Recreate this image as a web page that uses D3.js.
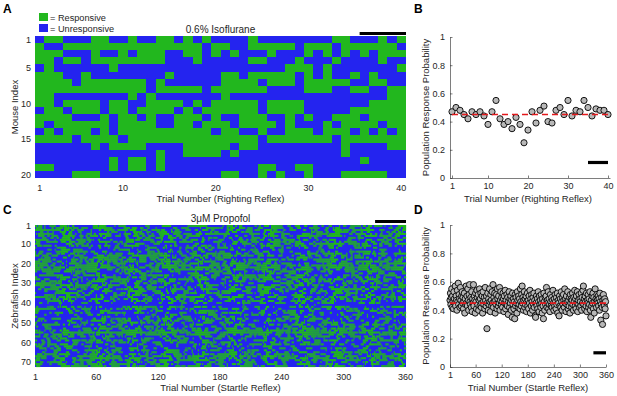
<!DOCTYPE html>
<html>
<head>
<meta charset="utf-8">
<script src="https://cdn.jsdelivr.net/npm/d3@7"></script>
<style>
body { margin: 0; background: #fff; }
text { font-family: "Liberation Sans", Arial, Helvetica, sans-serif; fill: #262626; }
.axis path, .axis line { stroke: #262626; stroke-width: 0.6; }
</style>
</head>
<body>
<svg id="fig" width="617" height="396"></svg>
<script>
// ---- data ----
// A: responses of 20 mice over 40 trials (G = responsive, B = unresponsive)
var mouseRows = [
    "BGGBBBGGBBGBBGGBGBGB" + "BBBGBBBBBBBBGGBBBGBG",
    "GBBGGGGGGGGGGGGGGGBG" + "GBBGGGGGBGGGBGGGGGGB",
    "GGGBBBGBBGBGGGBBGGBG" + "BGBBBGBBBGBGBGBGBGGG",
    "GGBGGBGGGGGGGGBBBGBB" + "BBBGGBBBGBBBGBBBBGBB",
    "BGBBBBBBGBBBBBBBBBBB" + "BBBBBBBGGGBGBBBBBBBG",
    "GGGBBGBBBBBBBBGBBBBB" + "GGBGGGGGBGBGBBGBGBBB",
    "GGGGBGGGGGGGBGBBBBBB" + "GGGGBGGGBGGGGGBBGGBB",
    "GGGGGGGGGGGGBGGGGGBG" + "GGGGGBBBBGGGBBGGBBGG",
    "GGBBBBBBBBGBGBBBBBBB" + "GBBBBBBBBBBBBBBBBBGG",
    "GGBGGGGBGGBBGGGGBGBG" + "GGGGBGGGGBBBBBBBGGGG",
    "BGGBGGGBGGBGGGGBGBGG" + "GGGGBGGGGBBBBBGGGGGG",
    "GGGGBBBGBGGBGBBGGGBG" + "BBGGGBBGBGBBGGGBGGGG",
    "GBGGGGGGBGGGGBBGGBGG" + "GBGGGGBGBBBGBGGGGBGG",
    "BGBGGGBGBGGGGGGGGGGB" + "GGBBGBBGGGBGGGBGBGBG",
    "GGGGBGGGGBGGGGGGGGGG" + "GGGGBGGGGGGGBGGGGGGG",
    "BBBBBBGBGGGGBBBBGGGG" + "GBGGBBBBBBBBBGBBBBGG",
    "BBBBBBBBBBBBBGBBGGGG" + "BGBBBBBBBBBBBGBBBBBB",
    "BBBBBBBBGBGGBGBBBBBB" + "BBBBBBBBBBBBBBBGBBBB",
    "GGBBBBBBGBGGBGBBBBBB" + "BBBBGGBBGGBBBBBBBBBB",
    "BBBBGGGBBBBBBBBBBBBB" + "GGBBGBGBBGBBBGGGGGBB"
];
var mouseTicks = [1, 5, 10, 15, 20];
var mouseTrialTicks = [1, 10, 20, 30, 40];
var mouseWindow = [36, 40];

// B: population response probability per righting-reflex trial
var isoProb = [0.47, 0.50, 0.48, 0.45, 0.42, 0.47, 0.45, 0.47, 0.44, 0.38,
               0.47, 0.55, 0.42, 0.38, 0.40, 0.35, 0.43, 0.38, 0.25, 0.34,
               0.47, 0.39, 0.48, 0.51, 0.40, 0.39, 0.48, 0.50, 0.45, 0.55,
               0.44, 0.48, 0.47, 0.55, 0.50, 0.44, 0.49, 0.48, 0.48, 0.45];
var isoMean = 0.45;
var isoWindow = [35, 40];

// D: population response probability per startle-reflex trial
var propProb = [
    .47,.52,.44,.49,.55,.42,.50,.46,.41,.53,.48,.45,.57,.43,.50,.47,.40,.54,.46,.59,
    .44,.51,.48,.42,.56,.47,.43,.50,.53,.45,.49,.41,.46,.52,.38,.48,.44,.57,.45,.50,
    .43,.55,.47,.40,.51,.58,.46,.44,.49,.42,.53,.39,.48,.45,.58,.43,.50,.47,.38,.52,
    .46,.41,.54,.49,.44,.51,.40,.47,.55,.43,.48,.52,.42,.45,.50,.38,.53,.46,.44,.49,
    .41,.56,.47,.43,.50,.27,.45,.52,.40,.48,.44,.55,.46,.39,.51,.47,.43,.53,.45,.58,
    .42,.49,.46,.52,.38,.47,.44,.51,.41,.55,.48,.43,.50,.45,.56,.40,.47,.53,.44,.49,
    .46,.42,.52,.48,.39,.50,.45,.54,.41,.47,.44,.51,.43,.49,.37,.46,.53,.42,.48,.45,
    .50,.40,.47,.35,.52,.44,.48,.41,.46,.34,.51,.43,.49,.45,.38,.53,.47,.42,.50,.44,
    .48,.41,.55,.46,.43,.51,.57,.45,.49,.40,.47,.53,.42,.48,.44,.50,.39,.46,.52,.43,
    .47,.41,.50,.45,.54,.38,.48,.43,.51,.46,.40,.49,.44,.52,.42,.47,.36,.35,.45,.50,
    .43,.48,.41,.53,.46,.39,.50,.44,.47,.42,.51,.45,.38,.48,.43,.34,.52,.46,.40,.49,
    .44,.50,.56,.42,.47,.45,.53,.41,.48,.44,.39,.51,.46,.43,.49,.42,.47,.54,.45,.40,
    .48,.43,.51,.46,.41,.49,.44,.52,.38,.47,.45,.36,.50,.43,.48,.42,.53,.46,.40,.49,
    .44,.51,.47,.42,.55,.45,.48,.39,.50,.44,.46,.53,.41,.47,.43,.49,.38,.51,.45,.48,
    .42,.47,.52,.44,.40,.49,.46,.54,.43,.48,.41,.50,.45,.53,.39,.47,.44,.51,.42,.48,
    .46,.43,.52,.40,.49,.45,.54,.57,.44,.48,.41,.50,.46,.43,.52,.39,.47,.45,.51,.42,
    .48,.44,.53,.40,.35,.47,.43,.50,.45,.52,.41,.49,.38,.46,.55,.44,.48,.42,.51,.47,
    .45,.50,.43,.48,.40,.52,.46,.33,.44,.49,.42,.30,.47,.51,.45,.43,.48,.41,.46,.36
];
var propMean = 0.45;
var propWindow = [331, 360];

// C: overall response rate of each of the 72 zebrafish (visible row bands)
var fishRate = [
    .47,.45,.49,.43,.46,.50,.44,.46,.48,.43,
    .45,.41,.36,.43,.46,.48,.44,.47,.49,.50,
    .51,.52,.50,.45,.42,.46,.43,.48,.45,.43,
    .46,.44,.48,.43,.46,.42,.47,.45,.43,.40,
    .22,.43,.46,.41,.44,.38,.36,.43,.45,.43,
    .46,.42,.48,.50,.62,.48,.44,.41,.43,.40,
    .41,.38,.43,.45,.41,.48,.51,.50,.45,.43,
    .47,.48
];
var fishTicks = [1, 10, 20, 30, 40, 50, 60, 70];
var fishTrialTicks = [1, 60, 120, 180, 240, 300, 360];
var probTicks = [0, 0.2, 0.4, 0.6, 0.8, 1];

var GREEN = "#22b71e", BLUE = "#2424ef";

var svg = d3.select("#fig");

function panelLetter(t, x, y) {
    svg.append("text").attr("x", x).attr("y", y).text(t)
        .style("font-weight", "bold").style("font-size", "12px").style("fill", "#000");
}
function label(t, x, y, size, rotate) {
    var el = svg.append("text").text(t).attr("text-anchor", "middle").style("font-size", size + "px");
    if (rotate) el.attr("transform", "translate(" + x + "," + y + ") rotate(-90)");
    else el.attr("x", x).attr("y", y);
    return el;
}

/* ---------- Panel A : heat map ---------- */
var aX = d3.scaleBand().domain(d3.range(1, 41)).range([35, 406]);
var aY = d3.scaleBand().domain(d3.range(1, 21)).range([36, 178]);
var gA = svg.append("g");
gA.append("rect").attr("x", 35).attr("y", 36).attr("width", 371).attr("height", 142).attr("fill", BLUE);
var aCells = [];
mouseRows.forEach(function(row, i) {
    row.split("").forEach(function(ch, j) { if (ch === "G") aCells.push({ m: i + 1, t: j + 1 }); });
});
gA.selectAll("rect.cell").data(aCells).enter().append("rect").attr("class", "cell")
    .attr("x", function(d) { return aX(d.t); })
    .attr("y", function(d) { return aY(d.m); })
    .attr("width", aX.bandwidth()).attr("height", aY.bandwidth())
    .attr("fill", GREEN).attr("shape-rendering", "crispEdges");

gA.selectAll("text.yt").data(mouseTicks).enter().append("text").attr("class", "yt")
    .attr("x", 31).attr("y", function(d) { return aY(d) + aY.bandwidth() / 2 + 3.2; })
    .attr("text-anchor", "end").style("font-size", "9px").text(function(d) { return d; });
gA.selectAll("text.xt").data(mouseTrialTicks).enter().append("text").attr("class", "xt")
    .attr("x", function(d) { return aX(d) + aX.bandwidth() / 2; }).attr("y", 190.5)
    .attr("text-anchor", "middle").style("font-size", "9px").text(function(d) { return d; });

// window bar above A
svg.append("rect").attr("x", aX(mouseWindow[0])).attr("y", 32)
    .attr("width", aX(mouseWindow[1]) + aX.bandwidth() - aX(mouseWindow[0])).attr("height", 3).attr("fill", "#000");

label("0.6% Isoflurane", 220.5, 33, 10);
label("Trial Number (Righting Reflex)", 220.5, 202, 9.5);
label("Mouse Index", 17.5, 107, 9.5, true);
panelLetter("A", 3, 13);

// legend
svg.append("rect").attr("x", 39).attr("y", 13).attr("width", 9).attr("height", 8).attr("fill", GREEN);
svg.append("rect").attr("x", 39).attr("y", 24).attr("width", 9).attr("height", 8).attr("fill", BLUE);
svg.append("text").attr("x", 50).attr("y", 20.5).style("font-size", "9.2px").text("= Responsive");
svg.append("text").attr("x", 50).attr("y", 31.5).style("font-size", "9.2px").text("= Unresponsive");

/* ---------- Panel C : heat map ---------- */
function hash01(a, b) {
    var h = Math.imul(a, 374761393) ^ Math.imul(b + 7919, 668265263);
    h = Math.imul(h ^ (h >>> 13), 1274126177);
    h ^= h >>> 16;
    return (h >>> 0) / 4294967296;
}
// arrangement of responders within each trial: fish with a higher rate respond first,
// with short runs along a row; each column keeps the trial's probability from propProb
var w = [0.4, 1, 1.4, 1, 0.4];
var cCells = [];
propProb.forEach(function(p, c) {
    var k = Math.round(p * fishRate.length);
    var scores = fishRate.map(function(rate, r) {
        var n = 0;
        for (var j = -2; j <= 2; j++) n += w[j + 2] * hash01(r + 1, c + j);
        return { r: r + 1, s: rate + n / 4.2 };
    });
    scores.sort(function(a, b) { return b.s - a.s; });
    for (var i = 0; i < k; i++) cCells.push({ f: scores[i].r, t: c + 1 });
});

var cX = d3.scaleBand().domain(d3.range(1, 361)).range([35, 406]);
var cY = d3.scaleBand().domain(d3.range(1, 73)).range([225, 367]);
var gC = svg.append("g");
gC.append("rect").attr("x", 35).attr("y", 225).attr("width", 371).attr("height", 142).attr("fill", BLUE);
gC.selectAll("rect.cell").data(cCells).enter().append("rect").attr("class", "cell")
    .attr("x", function(d) { return cX(d.t); })
    .attr("y", function(d) { return cY(d.f); })
    .attr("width", cX.bandwidth() + 0.15).attr("height", cY.bandwidth() + 0.1)
    .attr("fill", GREEN);

gC.selectAll("text.yt").data(fishTicks).enter().append("text").attr("class", "yt")
    .attr("x", 31).attr("y", function(d) { return cY(d) + cY.bandwidth() / 2 + 3.2; })
    .attr("text-anchor", "end").style("font-size", "9px").text(function(d) { return d; });
gC.selectAll("text.xt").data(fishTrialTicks).enter().append("text").attr("class", "xt")
    .attr("x", function(d) { return cX(d) + cX.bandwidth() / 2; }).attr("y", 379.5)
    .attr("text-anchor", "middle").style("font-size", "9px").text(function(d) { return d; });

svg.append("rect").attr("x", cX(propWindow[0])).attr("y", 220)
    .attr("width", cX(propWindow[1]) + cX.bandwidth() - cX(propWindow[0])).attr("height", 3).attr("fill", "#000");

label("3\u03BCM Propofol", 220.5, 222, 10);
label("Trial Number (Startle Reflex)", 220.5, 390.5, 9.5);
label("Zebrafish Index", 17.5, 296, 9.5, true);
panelLetter("C", 3, 214);

/* ---------- Panels B and D : scatter ---------- */
function scatter(opts) {
    var x = d3.scaleLinear().domain(opts.xDomain).range([450, opts.xEnd]);
    var y = d3.scaleLinear().domain([0, 1]).range([opts.bottom, opts.top]);
    var g = svg.append("g");

    g.append("g").attr("class", "axis").attr("transform", "translate(450,0)")
        .call(d3.axisLeft(y).tickValues(probTicks).tickSizeInner(-2.5).tickSizeOuter(0).tickPadding(5)
            .tickFormat(d3.format("~g")))
        .call(function(s) { s.selectAll("text").style("font-size", "9px"); });
    g.append("g").attr("class", "axis").attr("transform", "translate(0," + opts.bottom + ")")
        .call(d3.axisBottom(x).tickValues(opts.ticks).tickSizeInner(-2.5).tickSizeOuter(0).tickPadding(5))
        .call(function(s) { s.selectAll("text").style("font-size", "9px"); });
    g.selectAll(".axis").attr("font-family", null);

    g.selectAll("circle").data(opts.values).enter().append("circle")
        .attr("cx", function(d, i) { return x(i + 1); })
        .attr("cy", function(d) { return y(d); })
        .attr("r", 3.1)
        .attr("fill", "#b8b8b8").attr("stroke", "#000").attr("stroke-width", 0.9);

    g.append("line")
        .attr("x1", x(1)).attr("x2", x(opts.values.length))
        .attr("y1", y(opts.mean)).attr("y2", y(opts.mean))
        .attr("stroke", "#e3191c").attr("stroke-width", 1.6).attr("stroke-dasharray", "6,4");

    g.append("line")
        .attr("x1", x(opts.window[0])).attr("x2", x(opts.window[1]))
        .attr("y1", y(opts.barY)).attr("y2", y(opts.barY))
        .attr("stroke", "#000").attr("stroke-width", 3.2);

    label("Population Response Probability", 428.5, (opts.top + opts.bottom) / 2, 9.5, true);
    label(opts.xTitle, 528, opts.bottom + 24, 9.5);
}

scatter({ xDomain: [0.5, 40.5], xEnd: 610, top: 37, bottom: 178, ticks: mouseTrialTicks,
          values: isoProb, mean: isoMean, window: isoWindow, barY: 0.11,
          xTitle: "Trial Number (Righting Reflex)" });
panelLetter("B", 414, 13);

scatter({ xDomain: [1, 360], xEnd: 606, top: 225, bottom: 367, ticks: fishTrialTicks,
          values: propProb, mean: propMean, window: propWindow, barY: 0.10,
          xTitle: "Trial Number (Startle Reflex)" });
panelLetter("D", 414, 214);
</script>
</body>
</html>
